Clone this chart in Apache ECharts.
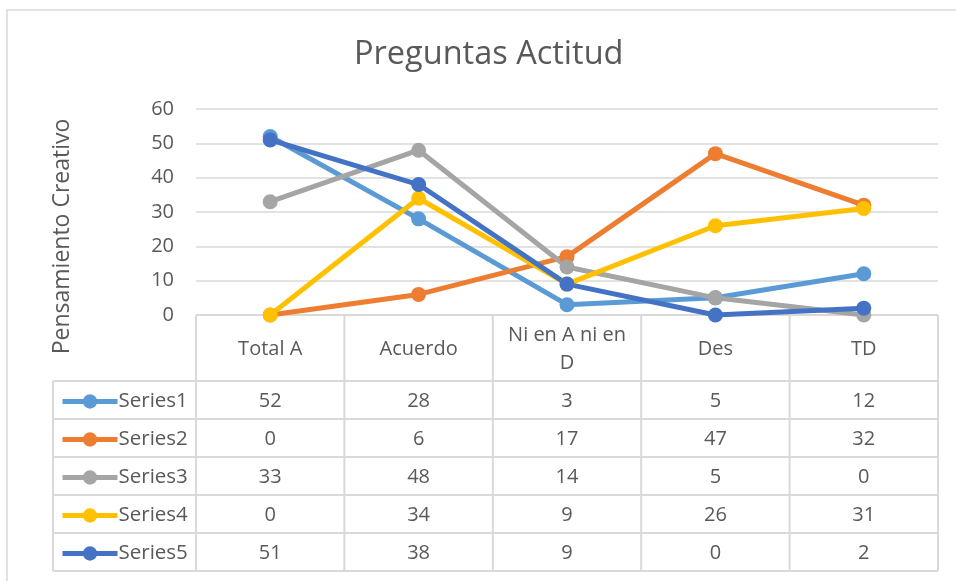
<!DOCTYPE html>
<html>
<head>
<meta charset="utf-8">
<script src="https://cdn.jsdelivr.net/npm/echarts@6/dist/echarts.min.js"></script>
<style>
  html, body { margin: 0; padding: 0; background: #fff; }
  #chart { width: 956px; height: 581px; }
</style>
</head>
<body>
<div id="chart"></div>
<script>
// data
const categories = ['Total A', 'Acuerdo', 'Ni en A ni en\nD', 'Des', 'TD']
const seriesNames = ['Series1', 'Series2', 'Series3', 'Series4', 'Series5']
const series1 = [52, 28, 3, 5, 12]
const series2 = [0, 6, 17, 47, 32]
const series3 = [33, 48, 14, 5, 0]
const series4 = [0, 34, 9, 26, 31]
const series5 = [51, 38, 9, 0, 2]
const yTicks = { min: 0, max: 60, interval: 10 }

const allValues = [series1, series2, series3, series4, series5]
const colors = ['#5B9BD5', '#ED7D31', '#A5A5A5', '#FFC000', '#4472C4']

const FONT = '"Open Sans", Lato, sans-serif'
const TEXT = '#595959'
const LINE = '#D9D9D9'

// 布局
const gridLeft = 196
const gridRight = 18
const gridTop = 109
const gridBottom = 266
const headerH = 66
const rowH = 38
const legendLeft = 53
const tableTop = 581 - gridBottom

const chart = echarts.init(document.getElementById('chart'))

// 每行一个图例，对齐表格
const legends = seriesNames.map((name, i) => ({
  orient: 'vertical',
  left: legendLeft + 7,
  top: tableTop + headerH + i * rowH + (rowH - 18) / 2,
  padding: 0,
  itemWidth: 55,
  itemHeight: 18,
  data: [name],
  lineStyle: { width: 5 },
  textStyle: { fontFamily: FONT, fontSize: 20.5, color: TEXT, padding: [0, 0, 0, -4] }
}))

const option = {
  animation: false,
  textStyle: { fontFamily: FONT },
  title: {
    text: 'Preguntas Actitud',
    left: 349,
    top: 33,
    textStyle: { fontFamily: FONT, fontSize: 32.5, fontWeight: 'normal', color: TEXT }
  },
  legend: legends,
  grid: {
    left: gridLeft,
    right: gridRight,
    top: gridTop,
    bottom: gridBottom
  },
  xAxis: {
    type: 'category',
    data: categories,
    boundaryGap: true,
    axisLine: { show: false },
    axisTick: { show: false },
    axisLabel: { show: false }
  },
  yAxis: {
    type: 'value',
    min: yTicks.min,
    max: yTicks.max,
    interval: yTicks.interval,
    name: 'Pensamiento Creativo',
    nameLocation: 'middle',
    nameRotate: 90,
    nameGap: 122,
    nameTextStyle: { fontFamily: FONT, fontSize: 23, color: TEXT, padding: [0, 49, 0, 0] },
    axisLine: { show: false },
    axisTick: { show: false },
    axisLabel: { fontFamily: FONT, fontSize: 20, color: TEXT, margin: 22 },
    splitLine: { lineStyle: { color: LINE, width: 1.5 } }
  },
  series: seriesNames.map((name, i) => ({
    name,
    type: 'line',
    data: allValues[i],
    symbol: 'circle',
    symbolSize: 15,
    lineStyle: { color: colors[i], width: 5 },
    itemStyle: { color: colors[i] }
  }))
}

chart.setOption(option)

// 数据表
function buildTable() {
  const right = 956 - gridRight
  const n = categories.length
  const colW = (right - gridLeft) / n
  const tableBottom = tableTop + headerH + rowH * seriesNames.length
  const els = []
  const line = (x1, y1, x2, y2) => els.push({
    type: 'line', silent: true, z: 1,
    shape: { x1, y1, x2, y2 },
    style: { stroke: LINE, lineWidth: 2 }
  })
  const text = (x, y, t) => els.push({
    type: 'text', silent: true, z: 2,
    x, y,
    style: { text: t, fill: TEXT, font: '20px ' + FONT, align: 'center', verticalAlign: 'middle', lineHeight: 28 }
  })

  // 横线
  line(gridLeft, tableTop, right, tableTop)
  for (let r = 0; r <= seriesNames.length; r++) {
    const y = tableTop + headerH + r * rowH
    line(legendLeft, y, right, y)
  }
  // 竖线
  line(legendLeft, tableTop + headerH, legendLeft, tableBottom)
  for (let c = 0; c <= n; c++) {
    const x = gridLeft + c * colW
    line(x, tableTop, x, tableBottom)
  }
  // 表头 + 数值
  categories.forEach((cat, c) => {
    const cx = chart.convertToPixel({ xAxisIndex: 0 }, c)
    text(cx, tableTop + headerH / 2 + 1, cat)
    allValues.forEach((vals, r) => {
      text(cx, tableTop + headerH + r * rowH + rowH / 2 + 1, String(vals[c]))
    })
  })
  // 外框
  els.push({
    type: 'rect', silent: true, z: 0,
    shape: { x: 7, y: 10, width: 1000, height: 600 },
    style: { fill: 'none', stroke: LINE, lineWidth: 1.5 }
  })
  return els
}

chart.setOption({ graphic: { elements: buildTable() } })
</script>
</body>
</html>
